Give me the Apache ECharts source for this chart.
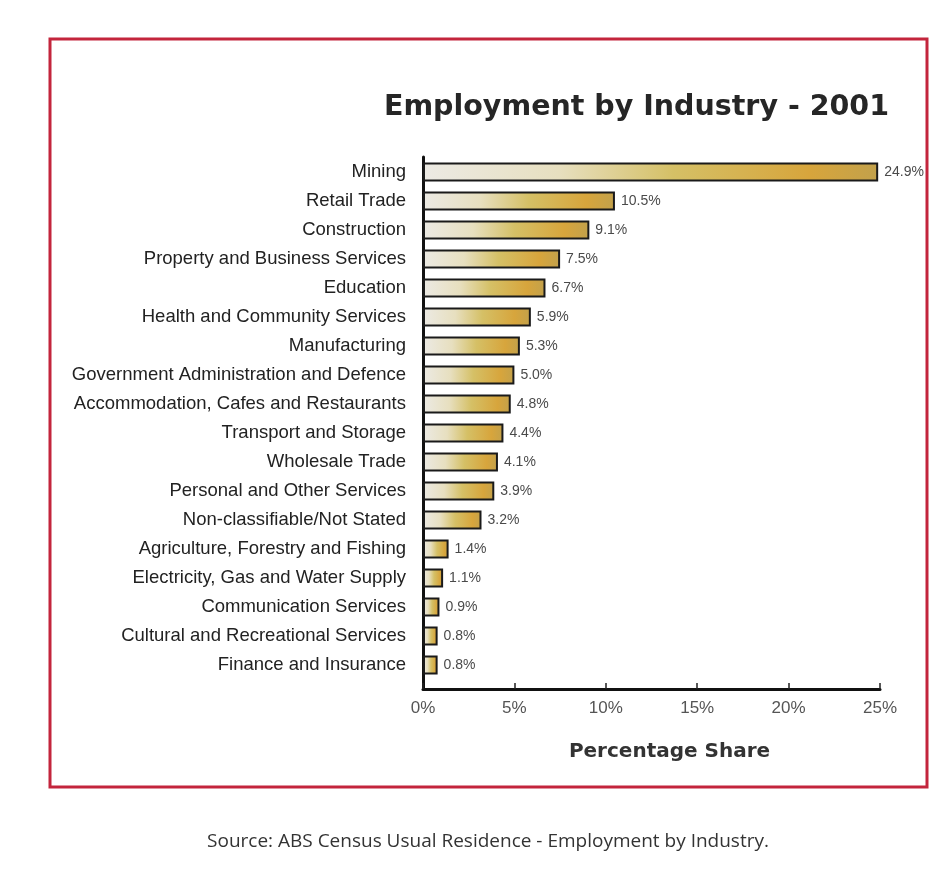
<!DOCTYPE html>
<html>
<head>
<meta charset="utf-8">
<title>Employment by Industry - 2001</title>
<script src="https://cdn.jsdelivr.net/npm/echarts@6/dist/echarts.min.js"></script>
<style>
  html, body { margin: 0; padding: 0; background: #ffffff; }
  #chart { width: 946px; height: 872px; }
</style>
</head>
<body>
<div id="chart"></div>
<script>
// Industries, top to bottom as listed
const industries = [
  'Mining',
  'Retail Trade',
  'Construction',
  'Property and Business Services',
  'Education',
  'Health and Community Services',
  'Manufacturing',
  'Government Administration and Defence',
  'Accommodation, Cafes and Restaurants',
  'Transport and Storage',
  'Wholesale Trade',
  'Personal and Other Services',
  'Non-classifiable/Not Stated',
  'Agriculture, Forestry and Fishing',
  'Electricity, Gas and Water Supply',
  'Communication Services',
  'Cultural and Recreational Services',
  'Finance and Insurance'
];

// Percentage share of employed persons
const shares = [24.9, 10.5, 9.1, 7.5, 6.7, 5.9, 5.3, 5.0, 4.8, 4.4, 4.1, 3.9, 3.2, 1.4, 1.1, 0.9, 0.8, 0.8];

// Percentage axis
const axisMin = 0;
const axisMax = 25;
const axisStep = 5;

const chart = echarts.init(document.getElementById('chart'));

const labelFont = 'Liberation Sans, Arial, sans-serif';

const barFill = new echarts.graphic.LinearGradient(0, 0, 1, 0, [
  { offset: 0, color: '#eceae4' },
  { offset: 0.3, color: '#e7dfbf' },
  { offset: 0.55, color: '#d5c066' },
  { offset: 0.85, color: '#d7a53c' },
  { offset: 1, color: '#c2a14b' }
]);

const option = {
  backgroundColor: '#ffffff',
  animation: false,
  title: {
    text: 'Employment by Industry - 2001',
    right: 52,
    top: 88,
    textStyle: {
      fontFamily: 'DejaVu Sans, sans-serif',
      fontWeight: 'bold',
      fontSize: 28.5,
      color: '#262626'
    }
  },
  graphic: [
    {
      type: 'rect',
      shape: { x: 50, y: 39, width: 877, height: 748 },
      style: { fill: 'none', stroke: '#c3253c', lineWidth: 3 },
      silent: true
    },
    {
      type: 'text',
      x: 488,
      y: 842,
      style: {
        text: 'Source: ABS Census Usual Residence - Employment by Industry.',
        fontFamily: 'Open Sans, sans-serif',
        fontSize: 19,
        fill: '#333333',
        align: 'center',
        verticalAlign: 'middle'
      }
    }
  ],
  grid: [
    // bars
    { left: 423, right: 66, top: 157.5, height: 522 },
    // axis frame
    { left: 423, right: 66, top: 157, bottom: 183 }
  ],
  xAxis: [
    {
      gridIndex: 0,
      type: 'value',
      min: axisMin,
      max: axisMax,
      interval: axisStep,
      show: false
    },
    {
      gridIndex: 1,
      type: 'value',
      min: axisMin,
      max: axisMax,
      interval: axisStep,
      axisLine: { show: true, lineStyle: { color: '#111111', width: 3 } },
      axisTick: { show: true, inside: true, length: 6, lineStyle: { color: '#222222', width: 1.5 } },
      splitLine: { show: false },
      axisLabel: {
        formatter: '{value}%',
        margin: 11,
        fontFamily: labelFont,
        fontSize: 17,
        color: '#555555'
      },
      name: 'Percentage Share',
      nameLocation: 'middle',
      nameGap: 53,
      nameTextStyle: {
        fontFamily: 'DejaVu Sans, sans-serif',
        fontWeight: 'bold',
        fontSize: 20,
        color: '#333333',
        padding: [0, 0, 0, 36]
      }
    }
  ],
  yAxis: [
    {
      gridIndex: 0,
      type: 'category',
      data: industries,
      inverse: true,
      axisLine: { show: false },
      axisTick: { show: false },
      axisLabel: {
        margin: 17,
        fontFamily: labelFont,
        fontSize: 18.5,
        color: '#222222'
      }
    },
    {
      gridIndex: 1,
      type: 'value',
      min: 0,
      max: 1,
      axisLine: { show: true, lineStyle: { color: '#111111', width: 3 } },
      axisTick: { show: false },
      axisLabel: { show: false },
      splitLine: { show: false }
    }
  ],
  series: [
    {
      type: 'bar',
      xAxisIndex: 0,
      yAxisIndex: 0,
      data: shares,
      barWidth: 19,
      itemStyle: {
        color: barFill,
        borderColor: '#1a1a1a',
        borderWidth: 2
      },
      label: {
        show: true,
        position: 'right',
        distance: 6,
        formatter: p => p.value.toFixed(1) + '%',
        fontFamily: labelFont,
        fontSize: 14,
        color: '#4a4a4a'
      }
    }
  ]
};

chart.setOption(option);
</script>
</body>
</html>
